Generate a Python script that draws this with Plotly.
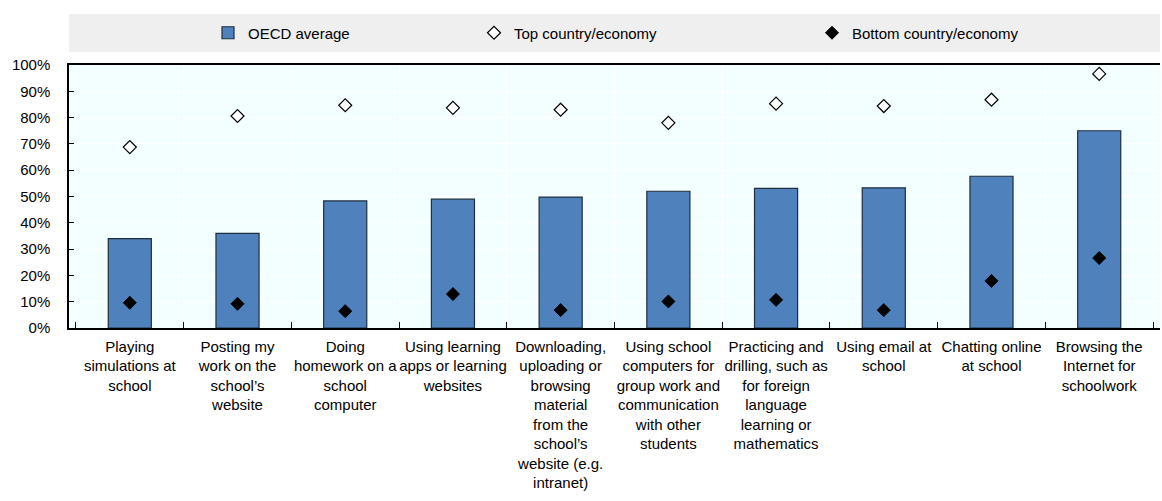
import plotly.graph_objects as go

categories = [
    "Playing<br>simulations at<br>school",
    "Posting my<br>work on the<br>school’s<br>website",
    "Doing<br>homework on a<br>school<br>computer",
    "Using learning<br>apps or learning<br>websites",
    "Downloading,<br>uploading or<br>browsing<br>material<br>from the<br>school’s<br>website (e.g.<br>intranet)",
    "Using school<br>computers for<br>group work and<br>communication<br>with other<br>students",
    "Practicing and<br>drilling, such as<br>for foreign<br>language<br>learning or<br>mathematics",
    "Using email at<br>school",
    "Chatting online<br>at school",
    "Browsing the<br>Internet for<br>schoolwork",
]
oecd_avg = [34.0, 36.0, 48.3, 49.0, 49.8, 52.0, 53.1, 53.3, 57.7, 75.0]
top_country = [68.8, 80.6, 84.7, 83.7, 83.0, 78.0, 85.3, 84.4, 86.8, 96.6]
bottom_country = [9.6, 9.2, 6.4, 12.9, 6.8, 10.1, 10.7, 6.8, 17.9, 26.6]
y_ticks = [0, 10, 20, 30, 40, 50, 60, 70, 80, 90, 100]
y_tick_labels = [f"{v}%" for v in y_ticks]

FONT = "Liberation Sans Narrow, Arial Narrow, Liberation Sans, Arial, sans-serif"

fig = go.Figure()
fig.add_trace(go.Bar(
    x=categories, y=oecd_avg, name="OECD average", width=0.4,
    marker=dict(color="#4F81BD", line=dict(color="#1F2F3F", width=1.2)),
    legend="legend", showlegend=True,
))
fig.add_trace(go.Scatter(
    x=categories, y=top_country, name="Top country/economy", mode="markers",
    marker=dict(symbol="diamond", size=10, color="white", line=dict(color="black", width=1.2)),
    legend="legend2", showlegend=True,
))
fig.add_trace(go.Scatter(
    x=categories, y=bottom_country, name="Bottom country/economy", mode="markers",
    marker=dict(symbol="diamond", size=10, color="black", line=dict(color="black", width=1)),
    legend="legend3", showlegend=True,
))

W, H = 1162, 501
ml, mr, mt, mb = 69, 2, 65, 173
ph = H - mt - mb

def py(ypx):
    return (H - mb - ypx) / ph

def px(xpx):
    return (xpx - ml) / (W - ml - mr)

leg_common = dict(orientation="h", bgcolor="rgba(0,0,0,0)", font=dict(family=FONT, size=15, color="black"),
                  yanchor="middle", y=py(33), xanchor="left", itemwidth=30, tracegroupgap=0)

fig.update_layout(
    width=W, height=H,
    margin=dict(l=ml, r=mr, t=mt, b=mb, autoexpand=False),
    paper_bgcolor="white",
    plot_bgcolor="#F2FEFF",
    font=dict(family=FONT, size=15, color="black"),
    showlegend=True,
    bargap=0.6,
    legend=dict(**leg_common, x=px(208)),
    legend2=dict(**leg_common, x=px(474)),
    legend3=dict(**leg_common, x=px(812)),
    shapes=[dict(type="rect", xref="paper", yref="paper", x0=0, x1=1,
                 y0=py(52), y1=py(14), fillcolor="#EFEFEF", line=dict(width=0), layer="below")],
)
fig.update_xaxes(
    tickangle=0, automargin=False,
    tickson="boundaries", ticks="inside", ticklen=6, tickcolor="black", tickwidth=1,
    showgrid=True, gridcolor="white", gridwidth=1,
    showline=True, linecolor="black", linewidth=1.5, mirror=True,
    ticklabelstandoff=4,
    tickfont=dict(family=FONT, size=15, color="black"),
)
fig.update_yaxes(
    range=[0, 100], tickvals=y_ticks, ticktext=y_tick_labels, automargin=False,
    ticks="inside", ticklen=5, tickcolor="black",
    showgrid=True, gridcolor="white", gridwidth=1,
    showline=True, linecolor="black", linewidth=1.5,
    zeroline=False, ticklabelstandoff=14,
    tickfont=dict(family=FONT, size=15, color="black"),
)

fig.write_html("out.html")
